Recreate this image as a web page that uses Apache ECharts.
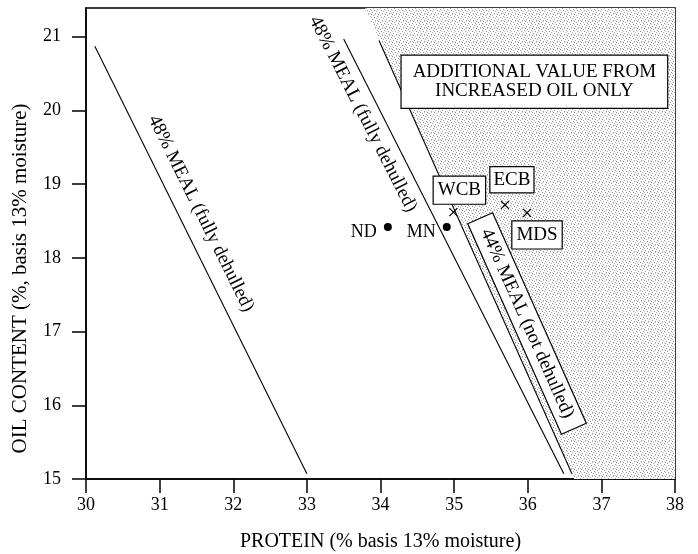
<!DOCTYPE html>
<html>
<head>
<meta charset="utf-8">
<script src="https://cdn.jsdelivr.net/npm/echarts@6/dist/echarts.min.js"></script>
<style>
  html, body { margin: 0; padding: 0; background: #fff; }
  #chart { width: 698px; height: 554px; }
</style>
</head>
<body>
<div id="chart"></div>
<script>
  // axis ticks
  var xTicks = [30, 31, 32, 33, 34, 35, 36, 37, 38];
  var yTicks = [15, 16, 17, 18, 19, 20, 21];

  // break-even lines (protein, oil)
  var line48Left = [[30.12, 20.87], [33.0, 15.07]];
  var line48Right = [[33.5, 20.97], [36.49, 15.07]];
  var line44 = [[33.98, 20.95], [36.6, 15.07]];

  // region right of the 44% line
  var shadeRegion = [[33.79, 21.39], [38, 21.39], [38, 15], [36.63, 15]];

  // samples
  var dotNames = ['ND', 'MN'];
  var dotProtein = [34.1, 34.9];
  var dotOil = [18.42, 18.42];

  var crossNames = ['WCB', 'ECB', 'MDS'];
  var crossProtein = [34.99, 35.69, 35.99];
  var crossOil = [18.62, 18.72, 18.61];

  var FONT = "'Liberation Serif', 'Times New Roman', serif";

  // stipple tile for the shaded area (scan-like dot screen)
  var tile = document.createElement('canvas');
  tile.width = 7; tile.height = 7;
  var tc = tile.getContext('2d');
  tc.fillStyle = '#fff';
  tc.fillRect(0, 0, 7, 7);
  [
    [0, 0, '#8a8a8a'], [4, 0, '#c0c0c0'], [2, 1, '#a8a8a8'], [6, 2, '#9a9a9a'],
    [3, 3, '#8e8e8e'], [0, 3, '#c8c8c8'], [5, 4, '#b0b0b0'], [1, 5, '#9c9c9c'],
    [4, 6, '#a0a0a0'], [6, 6, '#d0d0d0']
  ].forEach(function (p) {
    tc.fillStyle = p[2];
    tc.fillRect(p[0], p[1], 1, 1);
  });

  function pairs(xs, ys, names) {
    return xs.map(function (x, i) { return { name: names[i], value: [x, ys[i]] }; });
  }

  var boxLabel = {
    show: true,
    position: 'inside',
    color: '#000',
    fontFamily: FONT,
    fontSize: 19,
    backgroundColor: '#fff',
    borderColor: '#000',
    borderWidth: 1.2
  };

  var crossData = pairs(crossProtein, crossOil, crossNames);
  crossData[0].label = { offset: [6, -22], padding: [4, 4, 3, 4] };
  crossData[1].label = { offset: [7, -25], padding: [3, 3, 2, 3] };
  crossData[2].label = { offset: [10, 22], padding: [4, 4, 3, 4] };

  var lineStyle = { color: '#000', width: 1.1 };

  var option = {
    backgroundColor: '#fff',
    animation: false,
    grid: {
      left: 86, right: 23, top: 8, bottom: 75,
      outerBoundsMode: 'none',
      containLabel: false,
      show: true, borderColor: '#000', borderWidth: 1.5
    },
    xAxis: {
      type: 'value', min: 30, max: 38, interval: 1,
      name: 'PROTEIN (% basis 13% moisture)',
      nameLocation: 'middle', nameGap: 53,
      nameTextStyle: { color: '#000', fontFamily: FONT, fontSize: 20 },
      axisLine: { lineStyle: { color: '#000', width: 1.5 } },
      axisTick: { show: true, inside: false, length: 14, lineStyle: { color: '#000', width: 1.5 } },
      axisLabel: { color: '#000', fontFamily: FONT, fontSize: 18, margin: 17 },
      splitLine: { show: false }
    },
    yAxis: {
      type: 'value', min: 15, max: 21.39, interval: 1,
      name: 'OIL CONTENT (%, basis 13% moisture)',
      nameLocation: 'middle', nameGap: 55,
      nameTextStyle: { color: '#000', fontFamily: FONT, fontSize: 21, padding: [0, 70, 0, 0] },
      axisLine: { lineStyle: { color: '#000', width: 1.5 } },
      axisTick: { show: true, inside: false, length: 14, customValues: yTicks, lineStyle: { color: '#000', width: 1.5 } },
      axisLabel: { color: '#000', fontFamily: FONT, fontSize: 18, margin: 25, customValues: yTicks },
      splitLine: { show: false }
    },
    series: [
      {
        type: 'custom',
        z: 1,
        silent: true,
        clip: true,
        data: [shadeRegion[0]],
        renderItem: function (params, api) {
          return {
            type: 'polygon',
            shape: { points: shadeRegion.map(function (p) { return api.coord(p); }) },
            style: { fill: { image: tile, repeat: 'repeat' } }
          };
        }
      },
      { type: 'line', z: 2, data: line48Left, symbol: 'none', lineStyle: lineStyle },
      { type: 'line', z: 2, data: line48Right, symbol: 'none', lineStyle: lineStyle },
      { type: 'line', z: 2, data: line44, symbol: 'none', lineStyle: lineStyle },
      {
        type: 'scatter', z: 4,
        data: pairs(dotProtein, dotOil, dotNames),
        symbol: 'circle', symbolSize: 8,
        itemStyle: { color: '#000', opacity: 1 },
        label: {
          show: true, position: 'left', distance: 7, offset: [0, 5],
          formatter: '{b}', color: '#000', fontFamily: FONT, fontSize: 18
        }
      },
      {
        type: 'scatter', z: 6,
        data: crossData,
        symbol: 'path://M0,0L10,10M10,0L0,10', symbolSize: 8,
        itemStyle: { color: 'none', borderColor: '#000', borderWidth: 1.2, opacity: 1 },
        label: Object.assign({}, boxLabel, { formatter: '{b}', lineHeight: 20 })
      },
      {
        type: 'scatter', z: 5,
        symbolSize: 1,
        itemStyle: { color: 'rgba(0,0,0,0)', opacity: 1 },
        label: { show: true, position: 'inside', formatter: '{b}', color: '#000', fontFamily: FONT, fontSize: 19 },
        data: [
          { name: '48% MEAL (fully dehulled)', value: [31.56, 18.6], label: { rotate: -63.6 } },
          { name: '48% MEAL (fully dehulled)', value: [33.76, 19.95], label: { rotate: -63 } },
          {
            name: '44% MEAL (not dehulled)', value: [35.99, 17.11],
            label: Object.assign({}, boxLabel, { rotate: -66, padding: [3, 12, 3, 12], lineHeight: 20 })
          },
          {
            name: 'ADDITIONAL VALUE FROM\nINCREASED OIL ONLY', value: [36.09, 20.39],
            label: Object.assign({}, boxLabel, { padding: [7, 11, 7, 11], lineHeight: 19 })
          }
        ]
      }
    ]
  };

  var chart = echarts.init(document.getElementById('chart'));
  chart.setOption(option);
</script>
</body>
</html>
